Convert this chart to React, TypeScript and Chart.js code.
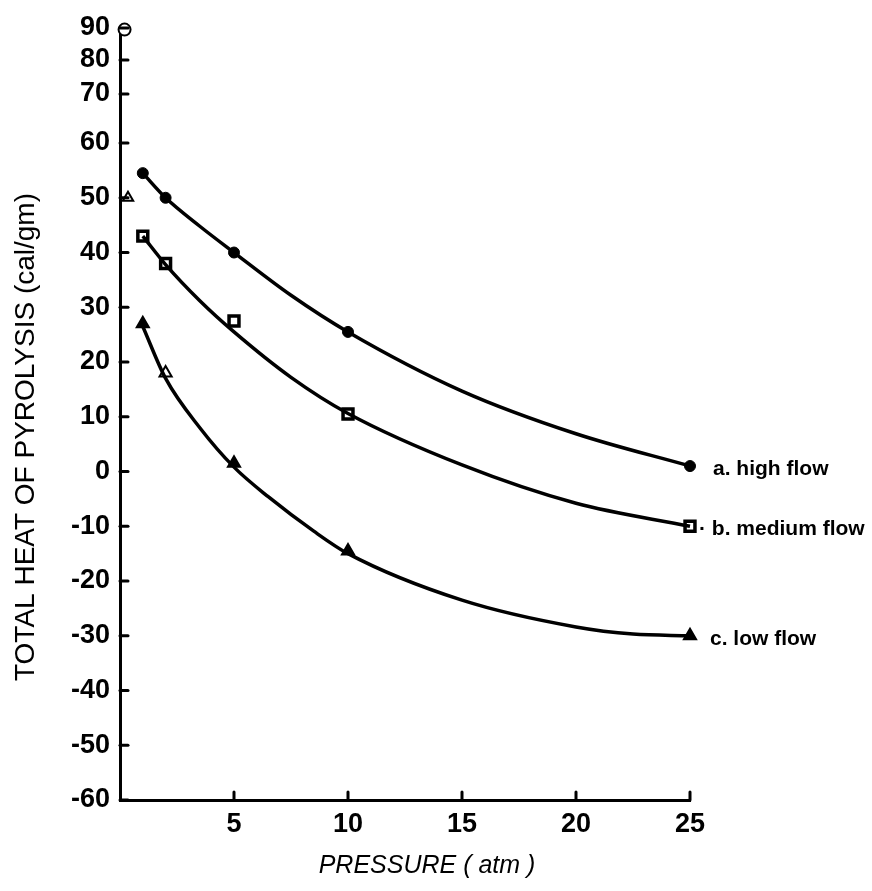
import React, { useEffect, useRef } from 'react';
import { Chart, LinearScale, registerables } from 'chart.js';

// ---- tick labels ----
const pressureTicks = [5, 10, 15, 20, 25];
const heatTicks = [-60, -50, -40, -30, -20, -10, 0, 10, 20, 30, 40, 50, 60, 70, 80, 90];

// ---- series names ----
const seriesNames = ['a. high flow', '\u00b7 b. medium flow', 'c. low flow'];

// ---- measured points ----
const pointPressure = [1, 2, 5, 10, 25];
const highFlowPoints = [54.5, 50, 40, 25.5, 1];
const mediumFlowPoints = [43, 38, 27.5, 10.5, -10];
const lowFlowPoints = [27, 18, 1.5, -14.5, -30];

// ---- fitted curves ----
const curvePressure = [1, 2, 3.5, 5, 7.5, 10, 15, 20, 25];
const highFlowCurve = [54.5, 50, 44.8, 40, 32.2, 25.5, 14.7, 6.9, 1];
const mediumFlowCurve = [43, 37.8, 31.2, 25.5, 17.2, 10.6, 1.2, -5.8, -10];
const lowCurvePressure = [1, 2, 3.5, 5, 6.5, 8.5, 10, 15, 20, 22.5, 25];
const lowFlowCurve = [26.5, 17, 8, 0.8, -4.6, -10.9, -15, -23.5, -28.4, -29.7, -30];

// ---- stray marks near the axis ----
const strayPressure = [0.2, 0.35];
const strayHeat = [89.5, 50];

// ---- the hand-drawn y axis is not evenly spaced at its top ----
const yAxisKnotValues = [-60, 60, 70, 80, 90];
const yAxisKnotFractions = [0, 0.851, 0.9145, 0.9585, 1];

function toFraction(v: number): number {
  const vs = yAxisKnotValues;
  const fs = yAxisKnotFractions;
  if (v <= vs[0]) return fs[0] + ((v - vs[0]) * (fs[1] - fs[0])) / (vs[1] - vs[0]);
  for (let i = 1; i < vs.length; i++) {
    if (v <= vs[i]) {
      const t = (v - vs[i - 1]) / (vs[i] - vs[i - 1]);
      return fs[i - 1] + t * (fs[i] - fs[i - 1]);
    }
  }
  const n = vs.length - 1;
  return fs[n] + ((v - vs[n]) * (fs[n] - fs[n - 1])) / (vs[n] - vs[n - 1]);
}
function fromFraction(d: number): number {
  const vs = yAxisKnotValues;
  const fs = yAxisKnotFractions;
  for (let i = 1; i < fs.length; i++) {
    if (d <= fs[i] || i === fs.length - 1) {
      const t = (d - fs[i - 1]) / (fs[i] - fs[i - 1]);
      return vs[i - 1] + t * (vs[i] - vs[i - 1]);
    }
  }
  return vs[vs.length - 1];
}

class WarpedLinearScale extends LinearScale {
  static id = 'warpedLinear';
  static defaults = LinearScale.defaults;
  getPixelForValue(value: any) {
    if (value === null || value === undefined || isNaN(value)) return NaN;
    return this.getPixelForDecimal(toFraction(+value));
  }
  getValueForPixel(pixel: number) {
    return fromFraction(this.getDecimalForPixel(pixel));
  }
}

Chart.register(...registerables, WarpedLinearScale as any);

const zip = (xs: number[], ys: number[]) => xs.map((x, i) => ({ x, y: ys[i] }));

const FONT = '"Liberation Sans", Arial, sans-serif';

const annotatePlugin = {
  id: 'annotate',
  afterDraw(chart: any) {
    const { ctx, chartArea, scales } = chart;
    const xs = scales.x;
    const ys = scales.y;
    ctx.save();
    ctx.strokeStyle = '#000';
    ctx.fillStyle = '#000';
    ctx.lineWidth = 3;
    ctx.lineCap = 'round';
    // inward tick marks
    ys.ticks.forEach((t: any) => {
      const py = ys.getPixelForValue(t.value);
      ctx.beginPath();
      ctx.moveTo(chartArea.left, py);
      ctx.lineTo(chartArea.left + 8, py);
      ctx.stroke();
    });
    xs.ticks.forEach((t: any) => {
      const px = xs.getPixelForValue(t.value);
      ctx.beginPath();
      ctx.moveTo(px, chartArea.bottom);
      ctx.lineTo(px, chartArea.bottom - 8);
      ctx.stroke();
    });
    // series labels at the end of each curve
    ctx.font = `bold 21px ${FONT}`;
    ctx.textAlign = 'left';
    ctx.textBaseline = 'middle';
    const lastValues = [
      highFlowPoints[highFlowPoints.length - 1],
      mediumFlowPoints[mediumFlowPoints.length - 1],
      lowFlowPoints[lowFlowPoints.length - 1],
    ];
    const offsets = [23, 9, 20];
    const lastX = pointPressure[pointPressure.length - 1];
    seriesNames.forEach((name, i) => {
      ctx.fillText(name, xs.getPixelForValue(lastX) + offsets[i], ys.getPixelForValue(lastValues[i]) + 3);
    });
    // axis titles
    ctx.font = `28px ${FONT}`;
    ctx.textAlign = 'center';
    ctx.save();
    ctx.translate(26, 437);
    ctx.rotate(-Math.PI / 2);
    ctx.fillText('TOTAL HEAT OF PYROLYSIS (cal/gm)', 0, 0);
    ctx.restore();
    ctx.font = `italic 25px ${FONT}`;
    ctx.fillText('PRESSURE ( atm )', 427, 866);
    ctx.restore();
  },
};

export default function App() {
  const ref = useRef<HTMLCanvasElement | null>(null);
  useEffect(() => {
    if (!ref.current) return;
    const black = '#000';
    const curve = (data: any) => ({
      type: 'line',
      data,
      borderColor: black,
      borderWidth: 3.5,
      pointRadius: 0,
      fill: false,
      cubicInterpolationMode: 'monotone',
      clip: false,
    });
    const chart = new Chart(ref.current, {
      type: 'scatter',
      data: {
        datasets: [
          curve(zip(curvePressure, highFlowCurve)),
          curve(zip(curvePressure, mediumFlowCurve)),
          curve(zip(lowCurvePressure, lowFlowCurve)),
          {
            data: zip(pointPressure, highFlowPoints),
            pointStyle: 'circle',
            pointRadius: 5.5,
            backgroundColor: black,
            borderColor: black,
            borderWidth: 1,
            clip: false,
          },
          {
            data: zip(pointPressure, mediumFlowPoints),
            pointStyle: 'rect',
            pointRadius: 7,
            backgroundColor: '#fff',
            borderColor: black,
            borderWidth: 3.5,
            clip: false,
          },
          {
            data: zip(pointPressure, lowFlowPoints),
            pointStyle: 'triangle',
            pointRadius: 7,
            backgroundColor: [black, '#fff', black, black, black],
            borderColor: black,
            borderWidth: 2,
            clip: false,
          },
          {
            data: zip(strayPressure, strayHeat),
            pointStyle: ['circle', 'triangle'],
            pointRadius: 6,
            backgroundColor: '#fff',
            borderColor: black,
            borderWidth: 2,
            clip: false,
          },
        ] as any,
      },
      options: {
        responsive: false,
        animation: false,
        events: [],
        layout: { padding: { top: 28, right: 182, left: 0, bottom: 0 } },
        plugins: { legend: { display: false }, tooltip: { enabled: false } },
        scales: {
          x: {
            type: 'linear',
            min: 0,
            max: 25,
            grid: { display: false, drawTicks: false },
            border: { display: true, color: black, width: 3 },
            afterBuildTicks: (s: any) => {
              s.ticks = pressureTicks.map((v) => ({ value: v }));
            },
            afterFit: (s: any) => {
              s.height = 91;
            },
            ticks: {
              color: black,
              padding: 8,
              autoSkip: false,
              maxRotation: 0,
              font: { family: FONT, size: 27, weight: 'bold' },
            },
          },
          y: {
            type: 'warpedLinear' as any,
            min: -60,
            max: 90,
            grid: { display: false, drawTicks: false },
            border: { display: true, color: black, width: 3 },
            afterBuildTicks: (s: any) => {
              s.ticks = heatTicks.map((v) => ({ value: v }));
            },
            afterFit: (s: any) => {
              s.width = 120;
            },
            ticks: {
              color: black,
              padding: 10,
              autoSkip: false,
              font: { family: FONT, size: 27, weight: 'bold' },
            },
          },
        },
      } as any,
      plugins: [annotatePlugin],
    });
    return () => chart.destroy();
  }, []);
  return (
    <div style={{ position: 'fixed', left: 0, top: 0, width: 872, height: 891, background: '#fff' }}>
      <canvas ref={ref} width={872} height={891} />
    </div>
  );
}
